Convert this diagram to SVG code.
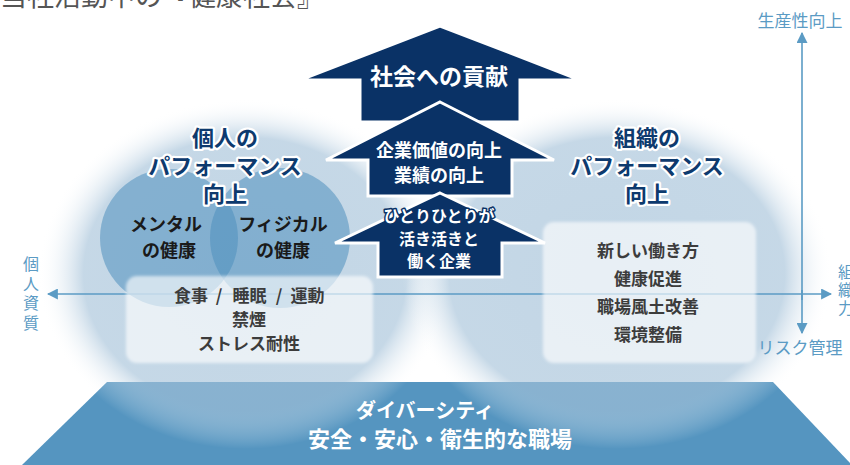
<svg xmlns="http://www.w3.org/2000/svg" width="850" height="465" viewBox="0 0 850 465">
<defs>
<style>
text{font-family:'Noto Sans CJK JP','Noto Sans',sans-serif;}
.ttl{font-size:22px;font-weight:700;fill:#0d3a6e;stroke:#ffffff;stroke-width:4.5;stroke-linejoin:round;paint-order:stroke;text-anchor:middle;}
.hlth{font-size:18px;font-weight:700;fill:#1a1a1a;text-anchor:middle;}
.box{font-size:17px;font-weight:700;fill:#3c3c3c;text-anchor:middle;}
.arw{fill:#0a3266;stroke:#ffffff;stroke-width:3;stroke-linejoin:miter;}
.wt{font-weight:700;fill:#ffffff;text-anchor:middle;}
.ax{font-size:17px;fill:#5b9bc4;}
.vt{font-size:16px;fill:#5b9bc4;writing-mode:vertical-rl;}
.axl{stroke:#5b9bc4;stroke-width:1.6;fill:none;}
.panel{fill:#ffffff;fill-opacity:0.62;filter:url(#soft);}
</style>
<radialGradient id="big" cx="0.5" cy="0.5" r="0.5">
<stop offset="0" stop-color="#a5c2d9" stop-opacity="0.68"/>
<stop offset="0.78" stop-color="#a5c2d9" stop-opacity="0.64"/>
<stop offset="1" stop-color="#ffffff" stop-opacity="0"/>
</radialGradient>
<filter id="soft" x="-10%" y="-10%" width="120%" height="120%"><feGaussianBlur stdDeviation="1.5"/></filter>
<marker id="ah" viewBox="0 0 10 10" refX="9" refY="5" markerWidth="11" markerHeight="11" markerUnits="userSpaceOnUse" orient="auto">
<path d="M0,0 L10,5 L0,10 Z" fill="#5b9bc4"/>
</marker>
</defs>
<rect width="850" height="465" fill="#ffffff"/>
<text x="0" y="6" font-size="27" fill="#555555">当社活動中の『健康社会』</text>

<g id="base">
<polygon points="107,382 773,382 852,465 22,465" fill="#5595c0"/>
</g>

<g id="circle-left"><ellipse cx="245" cy="274" rx="207" ry="175" fill="url(#big)"/></g>
<g id="circle-right"><ellipse cx="617" cy="274" rx="215" ry="175" fill="url(#big)"/></g>

<g id="base-text">
<text class="wt" x="425" y="418" font-size="20">ダイバーシティ</text>
<text class="wt" x="440" y="447" font-size="22">安全・安心・衛生的な職場</text>
</g>

<g id="connectors">
<line class="axl" x1="802" y1="300" x2="802" y2="33" marker-end="url(#ah)"/>
<line class="axl" x1="802" y1="290" x2="802" y2="333" marker-end="url(#ah)"/>
<line class="axl" x1="440" y1="294" x2="48" y2="294" marker-end="url(#ah)"/>
<line class="axl" x1="440" y1="294" x2="831" y2="294" marker-end="url(#ah)"/>
</g>

<g id="mental">
<circle cx="169" cy="238" r="69" fill="#4f8fbe" fill-opacity="0.55"/>
<text class="hlth" x="166" y="231">メンタル</text>
<text class="hlth" x="169" y="257">の健康</text>
</g>
<g id="physical">
<circle cx="280" cy="238" r="70" fill="#4f8fbe" fill-opacity="0.55"/>
<text class="hlth" x="283" y="231">フィジカル</text>
<text class="hlth" x="283" y="257">の健康</text>
</g>

<g id="personal-box">
<rect class="panel" x="126" y="276" width="247" height="87" rx="11"/>
<text class="box" y="302"><tspan x="191">食事</tspan><tspan x="219">/</tspan><tspan x="249.5">睡眠</tspan><tspan x="279">/</tspan><tspan x="307.5">運動</tspan></text>
<text class="box" x="249" y="326">禁煙</text>
<text class="box" x="249" y="350">ストレス耐性</text>
</g>

<g id="org-box">
<rect class="panel" x="543" y="222" width="213" height="141" rx="11"/>
<text class="box" x="648" y="257">新しい働き方</text>
<text class="box" x="648" y="285">健康促進</text>
<text class="box" x="648" y="313">職場風土改善</text>
<text class="box" x="648" y="341">環境整備</text>
</g>

<g id="personal-title">
<text class="ttl" x="225" y="146">個人の</text>
<text class="ttl" x="225" y="174">パフォーマンス</text>
<text class="ttl" x="225" y="202">向上</text>
</g>
<g id="org-title">
<text class="ttl" x="647" y="146">組織の</text>
<text class="ttl" x="647" y="174">パフォーマンス</text>
<text class="ttl" x="647" y="202">向上</text>
</g>

<g id="arrow-society">
<polygon class="arw" points="440,26 580,80 520,80 520,122 360,122 360,80 300,80"/>
<text class="wt" x="439" y="85" font-size="23">社会への貢献</text>
</g>
<g id="arrow-value">
<polygon class="arw" points="440,102 554,160 512,160 512,196 368,196 368,160 326,160"/>
<text class="wt" x="439" y="157" font-size="18">企業価値の向上</text>
<text class="wt" x="439" y="182" font-size="18">業績の向上</text>
</g>
<g id="arrow-company">
<polygon class="arw" points="440,193 545,243 502,243 502,277 378,277 378,243 335,243"/>
<text class="wt" x="439" y="222" font-size="16" stroke="#0a3266" stroke-width="3" stroke-linejoin="round" paint-order="stroke">ひとりひとりが</text>
<text class="wt" x="439" y="245" font-size="16">活き活きと</text>
<text class="wt" x="439" y="267" font-size="16">働く企業</text>
</g>

<g id="axis-labels">
<text class="ax" x="800" y="27" text-anchor="middle">生産性向上</text>
<text class="ax" x="800" y="354" text-anchor="middle">リスク管理</text>
<text class="vt" x="31" y="256" letter-spacing="3.5">個人資質</text>
<text class="vt" x="846" y="264" letter-spacing="2">組織力</text>
</g>
</svg>
